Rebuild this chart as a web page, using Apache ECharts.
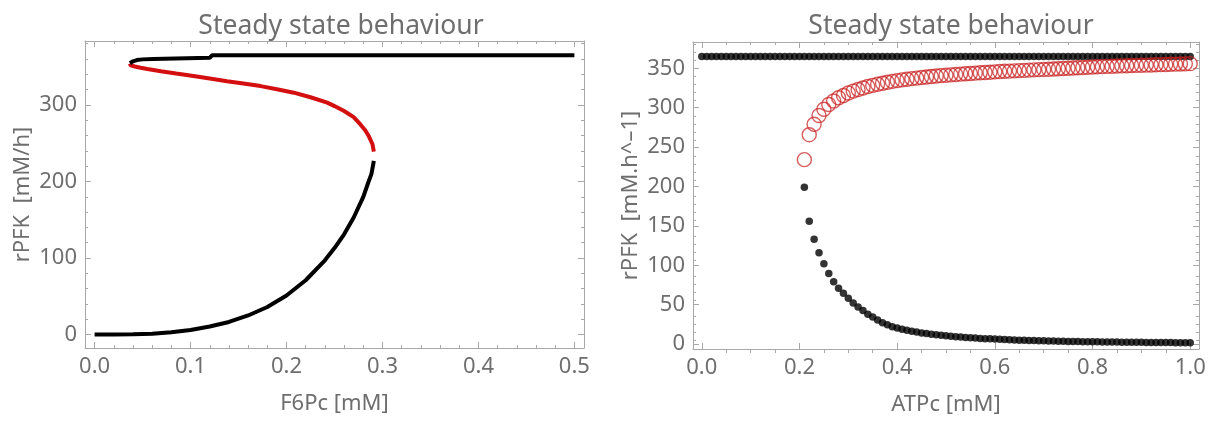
<!DOCTYPE html>
<html>
<head>
<meta charset="utf-8">
<script src="https://cdn.jsdelivr.net/npm/echarts@6/dist/echarts.min.js"></script>
<style>
html,body{margin:0;padding:0;background:#fff;}
#chart{width:1212px;height:421px;}
</style>
</head>
<body>
<div id="chart"></div>
<script>
// ---- Left panel: rPFK vs F6Pc (continuous branches) ----
const f6pLowX  = [0, 0.02, 0.04, 0.06, 0.08, 0.10, 0.12, 0.14, 0.16, 0.18, 0.20, 0.22, 0.24, 0.25, 0.26, 0.27, 0.28, 0.285, 0.2885, 0.291];
const f6pLowY  = [0, 0, 0.3, 1.2, 3.0, 6.0, 10.5, 16.5, 25, 36, 51, 71, 97, 113, 131, 153, 180, 198, 210, 227];
const f6pMidX  = [0.291, 0.2895, 0.2858, 0.282, 0.277, 0.27, 0.26, 0.25, 0.2424, 0.225, 0.2076, 0.19, 0.173, 0.155, 0.138, 0.12, 0.103, 0.085, 0.069, 0.055, 0.048, 0.042, 0.0375, 0.0368];
const f6pMidY  = [239, 249, 259, 267, 274.5, 284, 292, 298.5, 303, 310, 316, 320.5, 324.6, 328, 331, 334.5, 337.7, 341, 344, 347, 348.6, 350.2, 351.6, 354];
const f6pHighX = [0.0368, 0.04, 0.044, 0.05, 0.061, 0.062, 0.12, 0.1226, 0.2, 0.3, 0.4, 0.5];
const f6pHighY = [354.5, 357, 358.6, 359.5, 360, 361, 361.5, 365, 365, 365, 365, 365];

// ---- Right panel: rPFK vs ATPc (sampled points) ----
const atpAll = [0.00,0.01,0.02,0.03,0.04,0.05,0.06,0.07,0.08,0.09,0.10,0.11,0.12,0.13,0.14,0.15,0.16,0.17,0.18,0.19,0.20,0.21,0.22,0.23,0.24,0.25,0.26,0.27,0.28,0.29,0.30,0.31,0.32,0.33,0.34,0.35,0.36,0.37,0.38,0.39,0.40,0.41,0.42,0.43,0.44,0.45,0.46,0.47,0.48,0.49,0.50,0.51,0.52,0.53,0.54,0.55,0.56,0.57,0.58,0.59,0.60,0.61,0.62,0.63,0.64,0.65,0.66,0.67,0.68,0.69,0.70,0.71,0.72,0.73,0.74,0.75,0.76,0.77,0.78,0.79,0.80,0.81,0.82,0.83,0.84,0.85,0.86,0.87,0.88,0.89,0.90,0.91,0.92,0.93,0.94,0.95,0.96,0.97,0.98,0.99,1.00];
const rHigh = [365,365,365,365,365,365,365,365,365,365,365,365,365,365,365,365,365,365,365,365,365,365,365,365,365,365,365,365,365,365,365,365,365,365,365,365,365,365,365,365,365,365,365,365,365,365,365,365,365,365,365,365,365,365,365,365,365,365,365,365,365,365,365,365,365,365,365,365,365,365,365,365,365,365,365,365,365,365,365,365,365,365,365,365,365,365,365,365,365,365,365,365,365,365,365,365,365,365,365,365,365];
const atpBranch = [0.21,0.22,0.23,0.24,0.25,0.26,0.27,0.28,0.29,0.30,0.31,0.32,0.33,0.34,0.35,0.36,0.37,0.38,0.39,0.40,0.41,0.42,0.43,0.44,0.45,0.46,0.47,0.48,0.49,0.50,0.51,0.52,0.53,0.54,0.55,0.56,0.57,0.58,0.59,0.60,0.61,0.62,0.63,0.64,0.65,0.66,0.67,0.68,0.69,0.70,0.71,0.72,0.73,0.74,0.75,0.76,0.77,0.78,0.79,0.80,0.81,0.82,0.83,0.84,0.85,0.86,0.87,0.88,0.89,0.90,0.91,0.92,0.93,0.94,0.95,0.96,0.97,0.98,0.99,1.00];
const rUnstable = [234,265.7,279,290,298,304,308.5,312.5,315.5,318.5,321,323,325,326.8,328.3,329.7,331,332.2,333.3,334.3,335.2,336,336.8,337.5,338.2,338.9,339.5,340.1,340.6,341.1,341.6,342.1,342.6,343,343.4,343.8,344.2,344.6,345,345.4,345.8,346.1,346.4,346.7,347,347.3,347.6,347.9,348.2,348.5,348.8,349.1,349.4,349.7,350,350.3,350.6,350.9,351.2,351.5,351.8,352.1,352.4,352.6,352.8,353,353.2,353.4,353.6,353.8,354,354.2,354.4,354.6,354.8,355,355.2,355.4,355.6,355.8];
const rLow = [199,155.7,133,116,102,89.5,79,70.7,64.5,58,52,47,42.5,38,34.5,30.4,27,24.5,22,20.4,18.7,17.5,16.2,15.2,14.2,13.3,12.5,11.8,11.1,10.5,9.9,9.4,8.9,8.4,8.0,7.6,7.2,6.9,6.6,6.3,6.0,5.7,5.5,5.2,5.0,4.8,4.6,4.4,4.3,4.1,3.9,3.8,3.7,3.5,3.4,3.3,3.2,3.1,3.0,2.9,2.8,2.7,2.6,2.6,2.5,2.4,2.4,2.3,2.2,2.2,2.1,2.1,2.0,2.0,1.9,1.9,1.8,1.8,1.7,1.7];

// ---- Tick values ----
const leftXMajor  = [0, 0.1, 0.2, 0.3, 0.4, 0.5];
const leftXMinor  = [0.02,0.04,0.06,0.08,0.12,0.14,0.16,0.18,0.22,0.24,0.26,0.28,0.32,0.34,0.36,0.38,0.42,0.44,0.46,0.48];
const leftYMajor  = [0, 100, 200, 300];
const leftYMinor  = [20,40,60,80,120,140,160,180,220,240,260,280,320,340,360,380];
const rightXMajor = [0, 0.2, 0.4, 0.6, 0.8, 1.0];
const rightXMinor = [0.05,0.1,0.15,0.25,0.3,0.35,0.45,0.5,0.55,0.65,0.7,0.75,0.85,0.9,0.95];
const rightYMajor = [0, 50, 100, 150, 200, 250, 300, 350];
const rightYMinor = [10,20,30,40,60,70,80,90,110,120,130,140,160,170,180,190,210,220,230,240,260,270,280,290,310,320,330,340,360,370,380];

const zip = (xs, ys) => xs.map((x, i) => [x, ys[i]]);

const FONT = 'Noto Sans';
const AXIS_COLOR = '#a8a8a8';
const TEXT_COLOR = '#6e6e6e';
const fx1 = v => Number(v).toFixed(1);
const fint = v => String(Math.round(Number(v)));

function majorAxis(gridIndex, position, min, max, ticks, fmt, margin, extra) {
  return Object.assign({
    type: 'value', gridIndex, position, min, max,
    splitLine: { show: false },
    axisLine: { show: true, onZero: false, lineStyle: { color: AXIS_COLOR, width: 1 } },
    axisTick: { show: true, inside: true, length: 6, customValues: ticks, lineStyle: { color: AXIS_COLOR } },
    minorTick: { show: false },
    axisLabel: fmt ? { show: true, customValues: ticks, formatter: fmt, color: TEXT_COLOR,
                       fontFamily: FONT, fontSize: 22, margin: margin }
                   : { show: false },
    nameTextStyle: { color: TEXT_COLOR, fontFamily: FONT, fontSize: 22 }
  }, extra || {});
}
function minorAxis(gridIndex, position, min, max, ticks) {
  return {
    type: 'value', gridIndex, position, min, max,
    splitLine: { show: false },
    axisLine: { show: false, onZero: false },
    axisTick: { show: true, inside: true, length: 3, customValues: ticks, lineStyle: { color: AXIS_COLOR } },
    minorTick: { show: false },
    axisLabel: { show: false }
  };
}

const LX = [-0.01, 0.51], LY = [-17.5, 383.5];
const RX = [-0.018, 1.018], RY = [-6.25, 383.3];

const gL = { left: 85, right: 628, top: 41, bottom: 73 };
const gR = { left: 693, right: 13, top: 42, bottom: 68 };

const option = {
  backgroundColor: '#ffffff',
  animation: false,
  title: [
    { text: 'Steady state behaviour', left: 336, top: 8, textAlign: 'center',
      textStyle: { color: TEXT_COLOR, fontFamily: FONT, fontSize: 26.5, fontWeight: 'normal' } },
    { text: 'Steady state behaviour', left: 946, top: 8, textAlign: 'center',
      textStyle: { color: TEXT_COLOR, fontFamily: FONT, fontSize: 26.5, fontWeight: 'normal' } }
  ],
  grid: [gL, Object.assign({}, gL), gR, Object.assign({}, gR)],
  xAxis: [
    majorAxis(0, 'bottom', LX[0], LX[1], leftXMajor, fx1, 8, { name: 'F6Pc [mM]', nameLocation: 'middle', nameGap: 45 }),
    majorAxis(0, 'top', LX[0], LX[1], leftXMajor, null),
    minorAxis(1, 'bottom', LX[0], LX[1], leftXMinor),
    minorAxis(1, 'top', LX[0], LX[1], leftXMinor),
    majorAxis(2, 'bottom', RX[0], RX[1], rightXMajor, fx1, 8, { name: 'ATPc [mM]', nameLocation: 'middle', nameGap: 45 }),
    majorAxis(2, 'top', RX[0], RX[1], rightXMajor, null),
    minorAxis(3, 'bottom', RX[0], RX[1], rightXMinor),
    minorAxis(3, 'top', RX[0], RX[1], rightXMinor)
  ],
  yAxis: [
    majorAxis(0, 'left', LY[0], LY[1], leftYMajor, fint, 8, { name: 'rPFK  [mM/h]', nameLocation: 'middle', nameGap: 51, nameRotate: 90 }),
    majorAxis(0, 'right', LY[0], LY[1], leftYMajor, null),
    minorAxis(1, 'left', LY[0], LY[1], leftYMinor),
    minorAxis(1, 'right', LY[0], LY[1], leftYMinor),
    majorAxis(2, 'left', RY[0], RY[1], rightYMajor, fint, 8, { name: 'rPFK  [mM.h^\u20131]', nameLocation: 'middle', nameGap: 51, nameRotate: 90 }),
    majorAxis(2, 'right', RY[0], RY[1], rightYMajor, null),
    minorAxis(3, 'left', RY[0], RY[1], rightYMinor),
    minorAxis(3, 'right', RY[0], RY[1], rightYMinor)
  ],
  series: [
    { type: 'line', xAxisIndex: 0, yAxisIndex: 0, data: zip(f6pLowX, f6pLowY), showSymbol: false,
      lineStyle: { color: '#000', width: 4 }, z: 3 },
    { type: 'line', xAxisIndex: 0, yAxisIndex: 0, data: zip(f6pMidX, f6pMidY), showSymbol: false,
      lineStyle: { color: '#d40f0f', width: 4 }, z: 3 },
    { type: 'line', xAxisIndex: 0, yAxisIndex: 0, data: zip(f6pHighX, f6pHighY), showSymbol: false,
      lineStyle: { color: '#000', width: 4 }, z: 3 },
    { type: 'scatter', xAxisIndex: 4, yAxisIndex: 4, data: zip(atpAll, rHigh), symbol: 'circle', symbolSize: 7.5,
      itemStyle: { color: '#000' }, z: 2 },
    { type: 'scatter', xAxisIndex: 4, yAxisIndex: 4, data: zip(atpBranch, rLow), symbol: 'circle', symbolSize: 7.5,
      itemStyle: { color: '#000' }, z: 2 },
    { type: 'scatter', xAxisIndex: 4, yAxisIndex: 4, data: zip(atpBranch, rUnstable), symbol: 'circle', symbolSize: 14,
      itemStyle: { color: 'rgba(0,0,0,0)', borderColor: 'rgba(200,30,30,0.9)', borderWidth: 1.4 }, z: 3 }
  ]
};

const chart = echarts.init(document.getElementById('chart'), null, { renderer: 'canvas' });
chart.setOption(option);
</script>
</body>
</html>
